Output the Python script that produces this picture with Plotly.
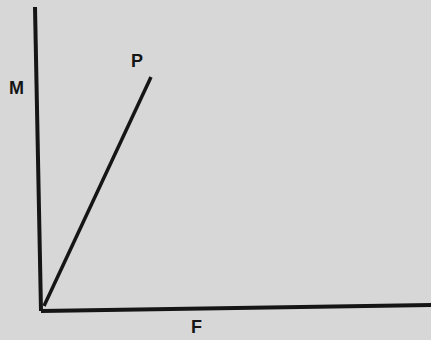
import plotly.graph_objects as go

# diagram data (F horizontal, M vertical, origin at 0,0)
m_axis_f = [0, -6]
m_axis_m = [0, 304]
f_axis_f = [0, 390]
f_axis_m = [0, 6]
p_line_f = [3, 110]
p_line_m = [5, 234]

labels = ["M", "P", "F"]
label_f = [-25, 96, 155]
label_m = [223, 250, -16]

ink = "#151515"
paper = "#d7d7d7"

fig = go.Figure()
fig.add_trace(go.Scatter(x=m_axis_f, y=m_axis_m, mode="lines",
                         line=dict(color=ink, width=4)))
fig.add_trace(go.Scatter(x=f_axis_f, y=f_axis_m, mode="lines",
                         line=dict(color=ink, width=4)))
fig.add_trace(go.Scatter(x=p_line_f, y=p_line_m, mode="lines",
                         line=dict(color=ink, width=3.5)))

for txt, fx, my in zip(labels, label_f, label_m):
    fig.add_annotation(x=fx, y=my, text="<b>%s</b>" % txt, showarrow=False,
                       font=dict(family="Liberation Sans", size=18, color=ink))

fig.update_layout(width=431, height=340, margin=dict(l=0, r=0, t=0, b=0),
                  paper_bgcolor=paper, plot_bgcolor=paper, showlegend=False)
fig.update_xaxes(range=[-41, 390], visible=False)
fig.update_yaxes(range=[-29, 311], visible=False)

# drop the default page margin so the figure sits at the window corner
fig.write_html("out.html", config={"displayModeBar": False},
               post_script="document.body.style.margin='0';"
                           "document.body.style.background='%s';" % paper)
